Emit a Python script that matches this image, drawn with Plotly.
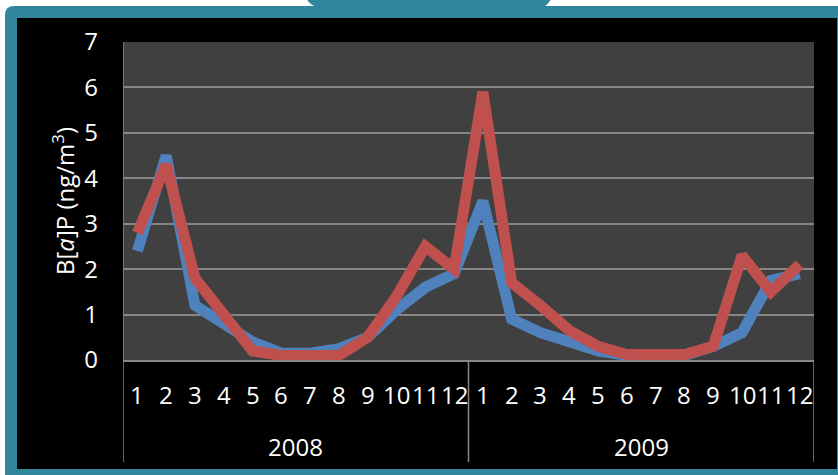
import plotly.graph_objects as go

# Monthly B[a]P concentrations (ng/m3), two sampling sites, 2008-2009
years = ["2008", "2009"]
months = [str(m) for m in range(1, 13)]
site_blue = [2.4, 4.5, 1.2, 0.8, 0.4, 0.15, 0.15, 0.25, 0.5, 1.1, 1.6, 1.9,
             3.5, 0.9, 0.6, 0.4, 0.2, 0.1, 0.1, 0.1, 0.3, 0.6, 1.75, 1.9]
site_red = [2.8, 4.3, 1.8, 1.0, 0.2, 0.1, 0.1, 0.1, 0.5, 1.4, 2.5, 2.0,
            5.9, 1.7, 1.2, 0.65, 0.3, 0.12, 0.12, 0.12, 0.3, 2.3, 1.5, 2.1]
y_ticks = [0, 1, 2, 3, 4, 5, 6, 7]

W, H = 838, 475
L, R, T, B = 123, 814, 42, 360
PW, PH = R - L, B - T

TEAL = "#31859C"
GRID = "#868686"
FONT = "Open Sans"
FS = 24


def px(x):
    return (x - L) / PW


def py(y):
    return (B - y) / PH


n = len(months) * len(years)
xs = list(range(1, n + 1))

fig = go.Figure()
fig.add_trace(go.Scatter(x=xs, y=site_blue, mode="lines",
                         line=dict(color="#4F81BD", width=11),
                         showlegend=False, hoverinfo="skip"))
fig.add_trace(go.Scatter(x=xs, y=site_red, mode="lines",
                         line=dict(color="#C0504D", width=11),
                         showlegend=False, hoverinfo="skip"))

shapes = []
# teal frame with rounded top-left corner
r = 9
frame = (f"M {px(5)},{py(6 + r)} Q {px(5)},{py(6)} {px(5 + r)},{py(6)} "
         f"L {px(W + 2)},{py(6)} L {px(W + 2)},{py(H + 2)} L {px(5)},{py(H + 2)} Z")
shapes.append(dict(type="path", xref="paper", yref="paper", path=frame,
                   fillcolor=TEAL, line=dict(width=0), layer="below"))
# tab on top of the frame
tab = (f"M {px(307)},{py(-1)} L {px(551)},{py(-1)} Q {px(548)},{py(5)} {px(543)},{py(7)} "
       f"L {px(318)},{py(7)} Q {px(309)},{py(5)} {px(307)},{py(-1)} Z")
shapes.append(dict(type="path", xref="paper", yref="paper", path=tab,
                   fillcolor=TEAL, line=dict(width=0), layer="below"))
# black chart area
shapes.append(dict(type="rect", xref="paper", yref="paper",
                   x0=px(17), x1=px(837), y0=py(18), y1=py(469),
                   fillcolor="#000000", line=dict(width=0), layer="below"))
# plot area background
shapes.append(dict(type="rect", xref="paper", yref="paper",
                   x0=0, x1=1, y0=0, y1=1,
                   fillcolor="#404040", line=dict(width=0), layer="below"))
# category dividers below the axis
for xb in [0.5, 12.5, 24.5]:
    shapes.append(dict(type="line", xref="x", yref="paper",
                       x0=xb, x1=xb, y0=py(462), y1=0 if xb != 0.5 else 1,
                       line=dict(color=GRID, width=1.5), layer="above"))

annotations = []
# month labels
for i, x in enumerate(xs):
    annotations.append(dict(x=x, y=py(394.5), xref="x", yref="paper",
                            text=months[i % 12], showarrow=False,
                            xanchor="center", yanchor="middle",
                            font=dict(family=FONT, size=FS, color="white")))
# year labels
for k, yr in enumerate(years):
    annotations.append(dict(x=6.5 + 12 * k, y=py(446), xref="x", yref="paper",
                            text=yr, showarrow=False,
                            xanchor="center", yanchor="middle",
                            font=dict(family=FONT, size=FS, color="white")))
# y-axis title
annotations.append(dict(x=px(63), y=py(201), xref="paper", yref="paper",
                        text="B[<i>a</i>]P (ng/m<sup>3</sup>)", showarrow=False,
                        textangle=-90, xanchor="center", yanchor="middle",
                        font=dict(family=FONT, size=FS, color="white")))

fig.update_layout(
    width=W, height=H,
    margin=dict(l=L, r=W - R, t=T, b=H - B, pad=0),
    paper_bgcolor="white",
    plot_bgcolor="rgba(0,0,0,0)",
    shapes=shapes,
    annotations=annotations,
    xaxis=dict(range=[0.5, n + 0.5], showgrid=False, zeroline=False,
               showticklabels=False, showline=True, linecolor=GRID,
               linewidth=1.5, ticks=""),
    yaxis=dict(range=[0, 7], tickvals=y_ticks, showgrid=True,
               gridcolor=GRID, gridwidth=1.8, zeroline=False,
               showline=False, ticks="", ticklabelstandoff=24,
               tickfont=dict(family=FONT, size=FS, color="white")),
)

fig.write_html("out.html")
